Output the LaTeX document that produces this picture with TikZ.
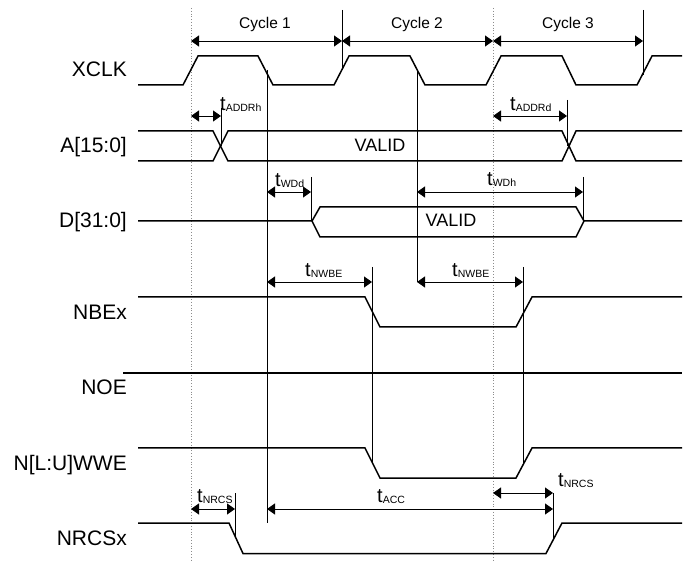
\documentclass[tikz,border=0pt]{standalone}
\usepackage{fontspec}
\setmainfont{Liberation Sans}
\usetikzlibrary{arrows.meta}
\newcommand\tlab[1]{t\raisebox{-1pt}{\fontsize{10.5}{10.5}\selectfont #1}}
\begin{document}
\begin{tikzpicture}[x=1pt,y=-1pt,
  sig/.style={line width=1.5pt, line join=miter},
  vline/.style={line width=0.9pt},
  dim/.style={line width=0.9pt, {Triangle[length=8pt,width=11pt]}-{Triangle[length=8pt,width=11pt]}},
  gridline/.style={black!45, dotted, line width=0.8pt},
  lbl/.style={font=\fontsize{21}{21}\selectfont, anchor=base east, inner sep=0pt},
  cyc/.style={font=\fontsize{15.5}{15.5}\selectfont, anchor=base, inner sep=0pt},
  val/.style={font=\fontsize{18}{18}\selectfont, anchor=base, inner sep=0pt},
  tl/.style={font=\fontsize{20}{20}\selectfont, anchor=base west, inner sep=0pt}
]
\fill[white] (0,0) rectangle (694,561);
\useasboundingbox (0,0) rectangle (694,561);

% reference dotted lines
\draw[gridline] (191,8) -- (191,561);
\draw[gridline] (493,8) -- (493,561);

% signal labels
\node[lbl] (lxclk) at (127,77) {XCLK};
\node[lbl] (la) at (127,153) {A[15:0]};
\node[lbl] (ld) at (127,228) {D[31:0]};
\node[lbl] (lnbe) at (127,320) {NBEx};
\node[lbl] (lnoe) at (127,395) {NOE};
\node[lbl] (lnwe) at (127,470) {N[L:U]WWE};
\node[lbl] (lnrcs) at (127,545) {NRCSx};

% waveforms
\draw[sig] (138,85) -- (183,85) -- (198,56) -- (258,56) -- (273,85) -- (334,85) -- (349,56)
  -- (410,56) -- (425,85) -- (486,85) -- (501,56) -- (562,56) -- (576,85) -- (637,85)
  -- (652,56) -- (682,56);
\draw[sig] (138,131) -- (213,131) -- (228,161) -- (562,161) -- (576,131) -- (682,131);
\draw[sig] (138,161) -- (213,161) -- (228,131) -- (562,131) -- (576,161) -- (682,161);
\draw[sig] (138,221) -- (312,221) -- (320,207) -- (576,207) -- (584,221) -- (682,221);
\draw[sig] (312,221) -- (320,237) -- (576,237) -- (584,221);
\draw[sig] (138,297) -- (365,297) -- (380,327) -- (516,327) -- (532,297) -- (682,297);
\draw[sig] (123,373) -- (682,373);
\draw[sig] (138,448) -- (365,448) -- (380,478) -- (516,478) -- (532,448) -- (682,448);
\draw[sig] (138,523) -- (229,523) -- (243,553.5) -- (546,553.5) -- (562,523) -- (682,523);

% vertical reference lines
\draw[vline] (342,10) -- (342,70);
\draw[vline] (643,10) -- (643,75);
\draw[vline] (267,70) -- (267,523);
\draw[vline] (417,70) -- (417,282);
\draw[vline] (221,108) -- (221,146);
\draw[vline] (567,100) -- (567,146);
\draw[vline] (311,177) -- (311,221);
\draw[vline] (583,177) -- (583,221);
\draw[vline] (372,267) -- (372,463);
\draw[vline] (523,267) -- (523,463);
\draw[vline] (235,493) -- (235,538);
\draw[vline] (553,493) -- (553,538);

% dimension end points
\coordinate (c0) at (191,41);
\coordinate (c1) at (342,41);
\coordinate (c2) at (493,41);
\coordinate (c3) at (643,41);
\coordinate (ah0) at (191,116);
\coordinate (ah1) at (221,116);
\coordinate (ad0) at (493,116);
\coordinate (ad1) at (567,116);
\coordinate (wd0) at (267,192);
\coordinate (wd1) at (311,192);
\coordinate (wh0) at (417,192);
\coordinate (wh1) at (583,192);
\coordinate (nb0) at (267,282);
\coordinate (nb1) at (372,282);
\coordinate (nc0) at (417,282);
\coordinate (nc1) at (523,282);
\coordinate (rs0) at (191,509);
\coordinate (rs1) at (235,509);
\coordinate (ac0) at (267,509);
\coordinate (ac1) at (553,509);
\coordinate (rt0) at (493,493);
\coordinate (rt1) at (553,493);

\draw[dim] (c0) -- (c1);
\draw[dim] (c1) -- (c2);
\draw[dim] (c2) -- (c3);
\draw[dim] (ah0) -- (ah1);
\draw[dim] (ad0) -- (ad1);
\draw[dim] (wd0) -- (wd1);
\draw[dim] (wh0) -- (wh1);
\draw[dim] (nb0) -- (nb1);
\draw[dim] (nc0) -- (nc1);
\draw[dim] (rs0) -- (rs1);
\draw[dim] (ac0) -- (ac1);
\draw[dim] (rt0) -- (rt1);

% texts
\node[cyc] (cy1) at (265,29) {Cycle 1};
\node[cyc] (cy2) at (417,29) {Cycle 2};
\node[cyc] (cy3) at (568,29) {Cycle 3};
\node[val] (va) at (380,152) {VALID};
\node[val] (vd) at (451,227) {VALID};
\node[tl] (taddrh) at (220,111) {\tlab{ADDRh}};
\node[tl] (taddrd) at (510,111) {\tlab{ADDRd}};
\node[tl] (twdd) at (275,187) {\tlab{WDd}};
\node[tl] (twdh) at (487,186) {\tlab{WDh}};
\node[tl] (tnwbe1) at (305,277) {\tlab{NWBE}};
\node[tl] (tnwbe2) at (452,277) {\tlab{NWBE}};
\node[tl] (tnrcs1) at (197,502) {\tlab{NRCS}};
\node[tl] (tacc) at (377,502) {\tlab{ACC}};
\node[tl] (tnrcs2) at (558,486) {\tlab{NRCS}};
\end{tikzpicture}
\end{document}
